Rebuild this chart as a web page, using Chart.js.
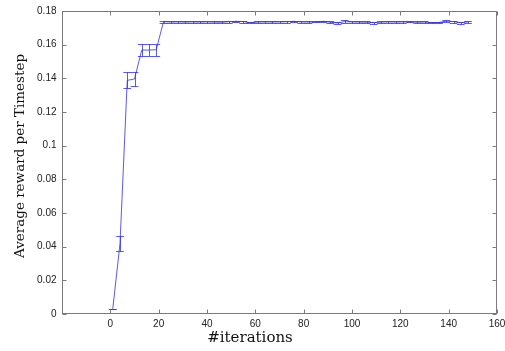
<!DOCTYPE html>
<html>
<head>
<meta charset="utf-8">
<script src="https://cdn.jsdelivr.net/npm/chart.js@4/dist/chart.umd.min.js"></script>
<style>
  html, body { margin: 0; padding: 0; background: #fff; }
  canvas { display: block; }
</style>
</head>
<body>
<canvas id="reward-chart" width="505" height="351"></canvas>
<script>
"use strict";

// iteration at which each evaluation was taken
var iterations = [1, 4, 7, 10, 13, 16, 19, 22, 25, 28, 31, 34, 37, 40, 43, 46, 49,
  52, 55, 58, 61, 64, 67, 70, 73, 76, 79, 82, 85, 88, 91, 94, 97, 100, 103, 106,
  109, 112, 115, 118, 121, 124, 127, 130, 133, 136, 139, 142, 145, 148];

// mean reward per timestep
var meanReward = [0.0030, 0.0419, 0.1388, 0.1396, 0.1568, 0.1568, 0.1570,
  0.1737, 0.1734, 0.1735, 0.1734, 0.1735, 0.1734, 0.1735, 0.1734, 0.1733, 0.1736,
  0.1739, 0.1737, 0.1731, 0.1734, 0.1735, 0.1734, 0.1735, 0.1736, 0.1739, 0.1735,
  0.1734, 0.1736, 0.1739, 0.1733, 0.1729, 0.1737, 0.1735, 0.1734, 0.1733, 0.1731,
  0.1734, 0.1735, 0.1734, 0.1735, 0.1736, 0.1733, 0.1734, 0.1731, 0.1732, 0.1740,
  0.1737, 0.1731, 0.1735];

// half-width of the error bar (std) at each point
var rewardErr = [0.0000, 0.0045, 0.0047, 0.0042, 0.0036, 0.0036, 0.0036,
  0.0006, 0.0004, 0.0004, 0.0004, 0.0004, 0.0004, 0.0004, 0.0005, 0.0005, 0.0005,
  0.0004, 0.0006, 0.0005, 0.0004, 0.0004, 0.0004, 0.0004, 0.0005, 0.0004, 0.0004,
  0.0004, 0.0004, 0.0004, 0.0005, 0.0006, 0.0007, 0.0004, 0.0004, 0.0005, 0.0006,
  0.0004, 0.0005, 0.0004, 0.0004, 0.0004, 0.0005, 0.0004, 0.0005, 0.0004, 0.0005,
  0.0006, 0.0006, 0.0006];

var xTicks = [0, 20, 40, 60, 80, 100, 120, 140, 160];
var yTicks = [0, 0.02, 0.04, 0.06, 0.08, 0.1, 0.12, 0.14, 0.16, 0.18];

var LINE = "rgba(50,50,225,0.8)";
var FRAME = "#7a7a7a";
var LABEL_FONT = "10px 'Liberation Sans', Arial, sans-serif";

// vertical bars with small caps, MATLAB errorbar style
var errorBarPlugin = {
  id: "errorBars",
  afterDatasetsDraw: function(chart) {
    var xs = chart.scales.x, ys = chart.scales.y, ctx = chart.ctx;
    var tee = 1.6;
    ctx.save();
    ctx.strokeStyle = LINE;
    ctx.lineWidth = 1;
    for (var i = 0; i < iterations.length; i++) {
      var px = Math.round(xs.getPixelForValue(iterations[i])) + 0.5;
      var pl = xs.getPixelForValue(iterations[i] - tee);
      var pr = xs.getPixelForValue(iterations[i] + tee);
      var lo = Math.round(ys.getPixelForValue(meanReward[i] - rewardErr[i])) + 0.5;
      var hi = Math.round(ys.getPixelForValue(meanReward[i] + rewardErr[i])) + 0.5;
      ctx.beginPath();
      ctx.moveTo(px, lo); ctx.lineTo(px, hi);
      ctx.moveTo(pl, lo); ctx.lineTo(pr, lo);
      ctx.moveTo(pl, hi); ctx.lineTo(pr, hi);
      ctx.stroke();
    }
    ctx.restore();
  }
};

// axes box with inward ticks on all four sides, tick labels and axis titles
var framePlugin = {
  id: "frame",
  afterDraw: function(chart) {
    var a = chart.chartArea, ctx = chart.ctx;
    var xs = chart.scales.x, ys = chart.scales.y;
    var L = Math.round(a.left) + 0.5, R = Math.round(a.right) - 0.5;
    var T = Math.round(a.top) + 0.5, B = Math.round(a.bottom) - 0.5;
    var tl = 4;
    ctx.save();
    ctx.strokeStyle = FRAME;
    ctx.lineWidth = 1;
    ctx.strokeRect(L, T, R - L, B - T);
    ctx.beginPath();
    xTicks.forEach(function(v) {
      var p = Math.round(xs.getPixelForValue(v)) + 0.5;
      ctx.moveTo(p, B); ctx.lineTo(p, B - tl);
      ctx.moveTo(p, T); ctx.lineTo(p, T + tl);
    });
    yTicks.forEach(function(v) {
      var p = Math.round(ys.getPixelForValue(v)) + 0.5;
      ctx.moveTo(L, p); ctx.lineTo(L + tl, p);
      ctx.moveTo(R, p); ctx.lineTo(R - tl, p);
    });
    ctx.stroke();

    ctx.fillStyle = "#222";
    ctx.font = LABEL_FONT;
    ctx.textBaseline = "middle";
    ctx.textAlign = "center";
    xTicks.forEach(function(v) {
      ctx.fillText(String(v), xs.getPixelForValue(v), B + 11);
    });
    ctx.textAlign = "right";
    yTicks.forEach(function(v) {
      ctx.fillText(String(v), L - 6, ys.getPixelForValue(v));
    });

    ctx.fillStyle = "#111";
    ctx.textAlign = "center";
    ctx.font = "15px 'DejaVu Serif'";
    ctx.fillText("#iterations", 250, 338);
    ctx.translate(20, 156);
    ctx.rotate(-Math.PI / 2);
    ctx.font = "13.5px 'DejaVu Serif'";
    ctx.fillText("Average reward per Timestep", 0, 0);
    ctx.restore();
  }
};

var points = iterations.map(function(x, i) { return { x: x, y: meanReward[i] }; });

new Chart(document.getElementById("reward-chart").getContext("2d"), {
  type: "line",
  data: {
    datasets: [{
      data: points,
      borderColor: LINE,
      borderWidth: 1,
      pointRadius: 0,
      tension: 0,
      fill: false
    }]
  },
  options: {
    responsive: false,
    animation: false,
    devicePixelRatio: 1,
    layout: { padding: { top: 11, right: 8, left: 0, bottom: 0 } },
    plugins: { legend: { display: false }, tooltip: { enabled: false } },
    scales: {
      x: {
        type: "linear",
        min: -20,
        max: 160,
        afterFit: function(s) { s.height = 37; },
        grid: { display: false, drawTicks: false },
        border: { display: false },
        ticks: { display: false }
      },
      y: {
        min: 0,
        max: 0.18,
        afterFit: function(s) { s.width = 62; },
        grid: { display: false, drawTicks: false },
        border: { display: false },
        ticks: { display: false }
      }
    }
  },
  plugins: [errorBarPlugin, framePlugin]
});
</script>
</body>
</html>
